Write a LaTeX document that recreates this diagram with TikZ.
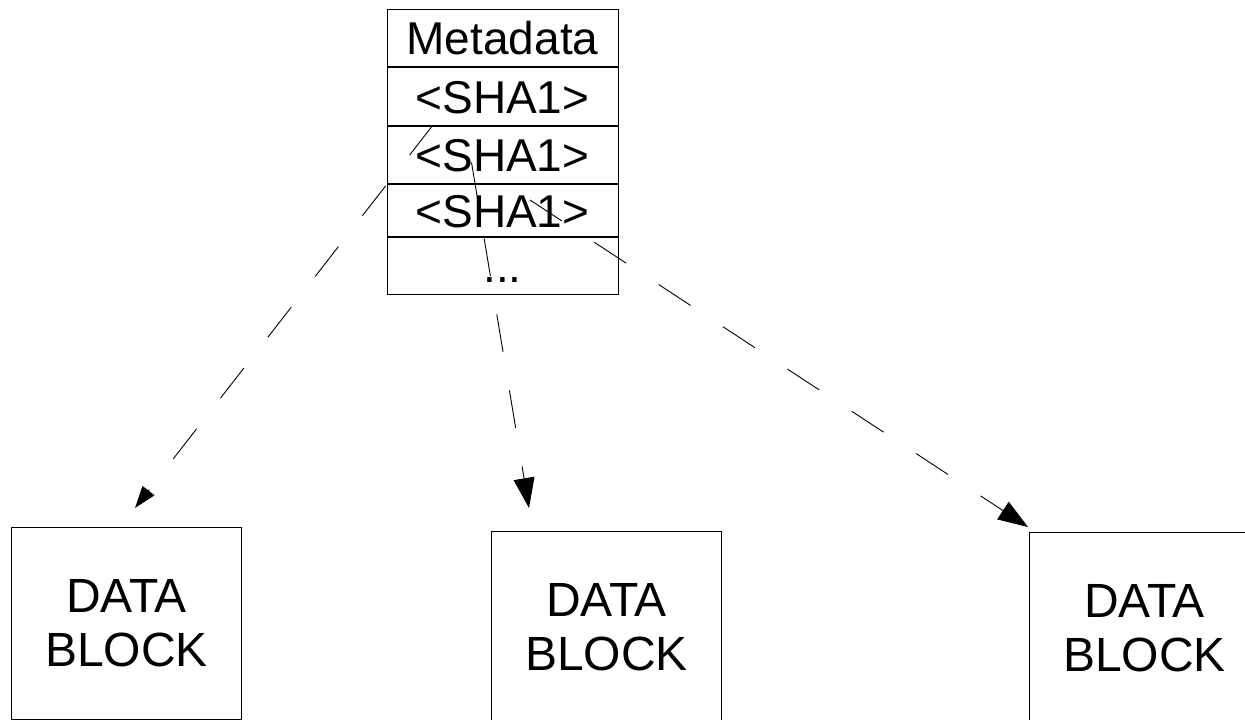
\documentclass[tikz,border=0pt]{standalone}
\usepackage{fontspec}
\setmainfont{Liberation Sans}
\usetikzlibrary{arrows.meta,positioning}
\tikzset{
  cell/.style={draw, line width=1pt, minimum width=231pt, inner sep=0pt,
    text height=33pt, text depth=0pt, font=\fontsize{46}{54}\selectfont},
  block/.style={draw, line width=1pt, minimum width=230pt, minimum height=192pt,
    anchor=north west, align=center, font=\fontsize{48}{54}\selectfont},
  pointer/.style={line width=0.9pt, dash pattern=on 38pt off 39pt,
    -{Triangle[length=30pt,width=21pt]}}
}

\begin{document}
\begin{tikzpicture}[x=1pt,y=-1pt]
    \useasboundingbox (0,0) rectangle (1245,720);
    \clip (0,0) rectangle (1245,720);
    % metadata table
    \node[cell, anchor=north, minimum height=57pt] (meta) at (502.5,9) {Metadata};
    \node[cell, minimum height=58pt, below=0pt of meta] (hashA) {<SHA1>};
    \node[cell, minimum height=57pt, below=0pt of hashA] (hashB) {<SHA1>};
    \node[cell, minimum height=52pt, below=0pt of hashB] (hashC) {<SHA1>};
    \node[cell, minimum height=57pt, below=0pt of hashC] (more) {...};
    % data blocks
    \node[block] (blockA) at (11,527) {DATA\\BLOCK};
    \node[block] (blockB) at (491,531) {DATA\\BLOCK};
    \node[block] (blockC) at (1029,531.5) {DATA\\BLOCK};
    % hash pointers
    \coordinate (fromA) at (433,125);
    \coordinate (fromB) at (471.5,162.5);
    \coordinate (fromC) at (530,200);
    \coordinate (toA) at (135,508);
    \coordinate (toB) at (529,508);
    \coordinate (toC) at (1028,527);
    \draw[pointer,-{Triangle[length=22pt,width=15pt]}] (fromA) -- (toA);
    \draw[pointer] (fromB) -- (toB);
    \draw[pointer] (fromC) -- (toC);
\end{tikzpicture}
\end{document}
